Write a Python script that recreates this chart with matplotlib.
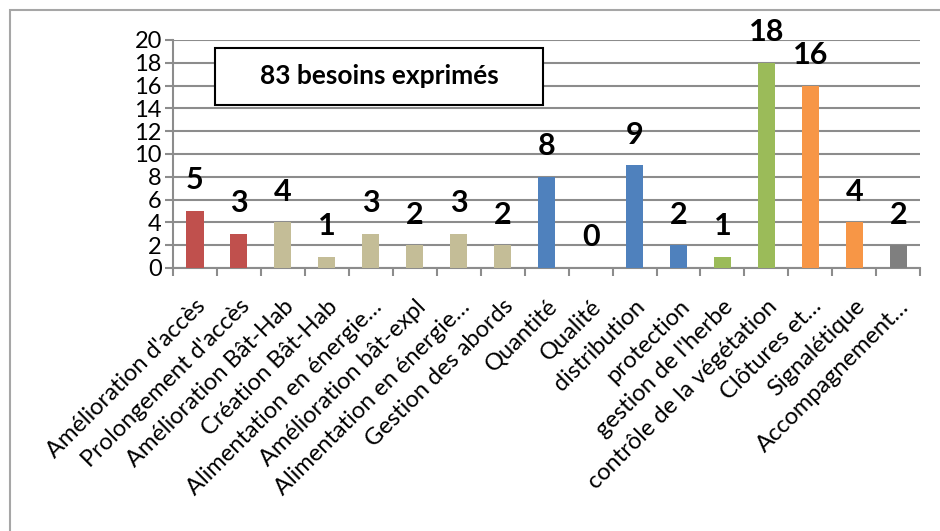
import matplotlib
matplotlib.use('Agg')
import matplotlib.pyplot as plt
from matplotlib.patches import Rectangle

plt.rcParams['font.family'] = ['Lato', 'DejaVu Sans']

categories = ["Amélioration d'accès", "Prolongement d'accès", "Amélioration Bât-Hab",
              "Création Bât-Hab", "Alimentation en énergie…", "Amélioration bât-expl",
              "Alimentation en énergie…", "Gestion des abords", "Quantité", "Qualité",
              "distribution", "protection", "gestion de l'herbe",
              "contrôle de la végétation", "Clôtures et…", "Signalétique",
              "Accompagnement…"]
values = [5, 3, 4, 1, 3, 2, 3, 2, 8, 0, 9, 2, 1, 18, 16, 4, 2]
groups = ['red', 'red', 'tan', 'tan', 'tan', 'tan', 'tan', 'tan',
          'blue', 'blue', 'blue', 'blue', 'green', 'green', 'orange', 'orange', 'gray']
palette = {'red': '#C0504D', 'tan': '#C4BD97', 'blue': '#4F81BD',
           'green': '#9BBB59', 'orange': '#F79646', 'gray': '#7F7F7F'}
title_text = "83 besoins exprimés"

fig = plt.figure(figsize=(9.4, 5.31), dpi=100)
ax = fig.add_axes([0.184, 0.4953, 0.795, 0.4294])

x = list(range(len(values)))
bars = ax.bar(x, values, width=0.39, color=[palette[g] for g in groups], zorder=3)

for xi, v in zip(x, values):
    ax.annotate(str(v), (xi, v), xytext=(0, 12), textcoords='offset points',
                ha='center', va='bottom', fontsize=22, fontweight='bold')

grid_c = '#8C8C8C'
ax.set_ylim(0, 20)
ax.set_yticks(range(0, 21, 2))
ax.set_xlim(-0.5, len(values) - 0.5)
ax.set_xticks([i - 0.5 for i in range(len(values) + 1)])
ax.set_xticklabels([])
ax.set_xticks(x, minor=True)
ax.set_xticklabels(categories, minor=True, rotation=45, ha='right',
                   rotation_mode='anchor', fontsize=17)
ax.tick_params(axis='x', which='minor', length=0, pad=20)
ax.tick_params(axis='x', which='major', length=6, color=grid_c, width=1.5)
ax.tick_params(axis='y', length=6, color=grid_c, width=1.5, labelsize=17, pad=2)
ax.yaxis.grid(True, color=grid_c, linewidth=1.5, zorder=0)
ax.set_axisbelow(True)
for s in ['top', 'right']:
    ax.spines[s].set_visible(False)
for s in ['left', 'bottom']:
    ax.spines[s].set_color(grid_c)
    ax.spines[s].set_linewidth(1.5)

# annotation box
ax.add_patch(Rectangle((0.0562, 0.715), 0.4391, 0.25, transform=ax.transAxes,
                       facecolor='white', edgecolor='black', linewidth=1.5, zorder=5))
ax.text(0.2757, 0.84, title_text, transform=ax.transAxes, ha='center', va='center',
        fontsize=19, fontweight='bold', zorder=6)

# outer chart frame
fig.patches.append(Rectangle((10 / 940, -0.1), 1.2, 1 - 10 / 531 + 0.1,
                             transform=fig.transFigure, fill=False,
                             edgecolor='#A6A6A6', linewidth=1.5))

fig.savefig('out.png', dpi=100)
